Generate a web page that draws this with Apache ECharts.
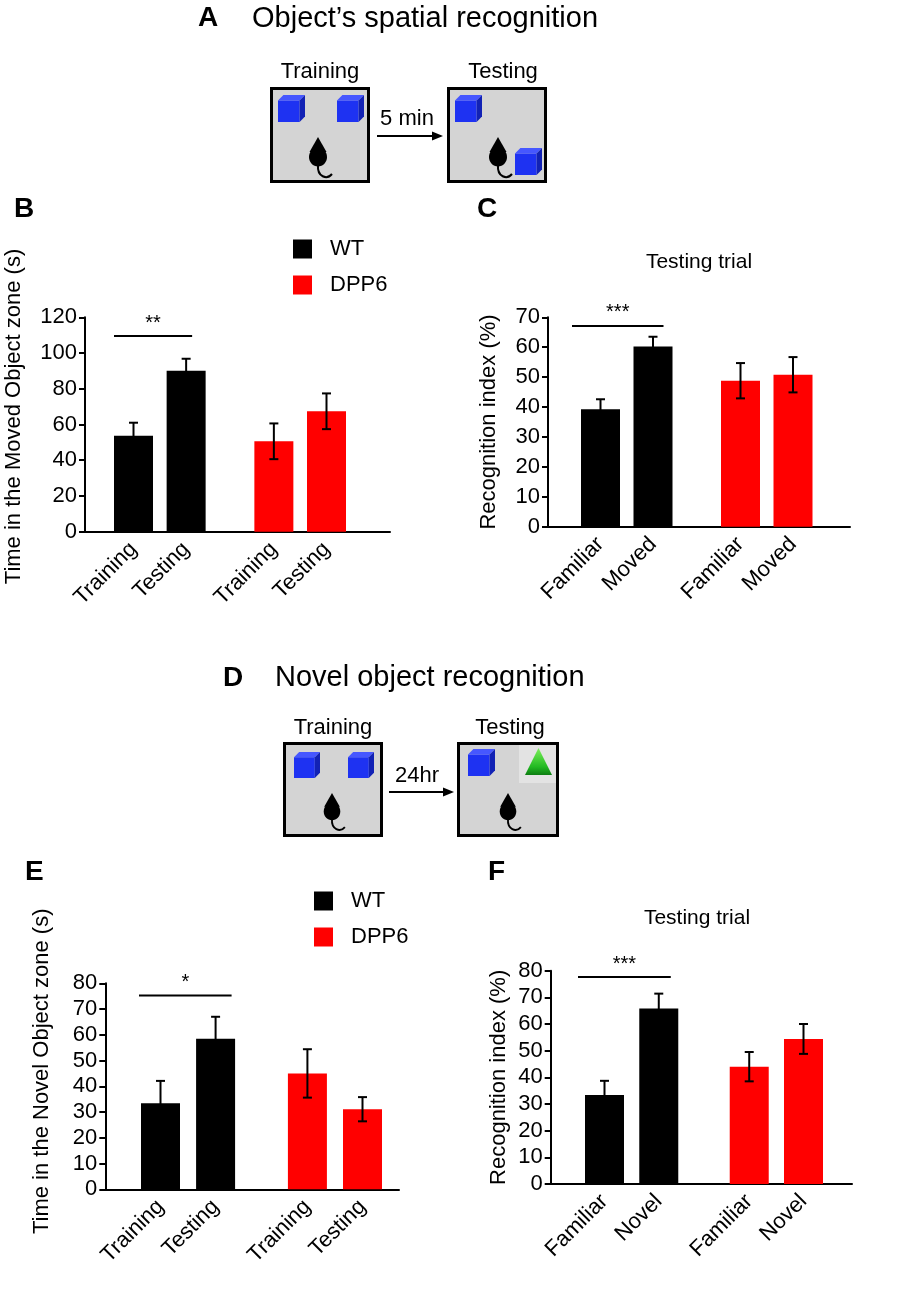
<!DOCTYPE html>
<html lang="en">
<head>
<meta charset="UTF-8">
<title>Object recognition in WT and DPP6 mice</title>
<style>
    html, body { margin: 0; padding: 0; background: #fff; }
    #chart { width: 915px; height: 1300px; }
</style>
</head>
<body>
<div id="chart"></div>
<script src="https://cdn.jsdelivr.net/npm/echarts@6/dist/echarts.min.js"></script>
<script>
// B - object's spatial recognition, time in the moved object zone (s)
var spatialTimeLabels = ['Training', 'Testing'];
var spatialTimeWT = [53.7, 90.1];
var spatialTimeWTErr = [7.3, 6.7];
var spatialTimeDPP6 = [50.6, 67.4];
var spatialTimeDPP6Err = [10.0, 10.0];
var spatialTimeSig = 109.5;          // ** WT training vs testing
var spatialTimeTicks = [0, 20, 40, 60, 80, 100, 120];

// C - spatial recognition index (%), testing trial
var spatialIndexLabels = ['Familiar', 'Moved'];
var spatialIndexWT = [39.3, 60.2];
var spatialIndexWTErr = [3.3, 3.3];
var spatialIndexDPP6 = [48.8, 50.8];
var spatialIndexDPP6Err = [5.9, 5.9];
var spatialIndexSig = 67.1;          // ***
var spatialIndexTicks = [0, 10, 20, 30, 40, 50, 60, 70];

// E - novel object recognition, time in the novel object zone (s)
var novelTimeLabels = ['Training', 'Testing'];
var novelTimeWT = [33.4, 58.5];
var novelTimeWTErr = [8.7, 8.5];
var novelTimeDPP6 = [45.0, 31.1];
var novelTimeDPP6Err = [9.4, 4.7];
var novelTimeSig = 75.3;             // *
var novelTimeTicks = [0, 10, 20, 30, 40, 50, 60, 70, 80];

// F - novel recognition index (%), testing trial
var novelIndexLabels = ['Familiar', 'Novel'];
var novelIndexWT = [33.4, 65.8];
var novelIndexWTErr = [5.3, 5.6];
var novelIndexDPP6 = [44.0, 54.4];
var novelIndexDPP6Err = [5.5, 5.6];
var novelIndexSig = 77.6;            // ***
var novelIndexTicks = [0, 10, 20, 30, 40, 50, 60, 70, 80];

var FONT = '"Liberation Sans", Arial, Helvetica, sans-serif';
// bars sit on a fine category grid: the two bars of a genotype 3 slots apart,
// the two genotypes 5 slots apart
var SLOTS = [0, 3, 8, 11];
var NSLOT = 12;

var option = {
    animation: false,
    backgroundColor: '#fff',
    textStyle: { fontFamily: FONT },
    grid: [], xAxis: [], yAxis: [], series: [], legend: [], graphic: []
};

function errorBar(params, api) {
    var x = api.value(0), m = api.value(1), e = api.value(2);
    var hi = api.coord([x, m + e]);
    var lo = api.coord([x, m - e]);
    var cap = 4.5;
    var st = { stroke: '#000', lineWidth: 2 };
    return {
        type: 'group',
        children: [
            { type: 'line', shape: { x1: hi[0], y1: hi[1], x2: lo[0], y2: lo[1] }, style: st },
            { type: 'line', shape: { x1: hi[0] - cap, y1: hi[1], x2: hi[0] + cap, y2: hi[1] }, style: st },
            { type: 'line', shape: { x1: lo[0] - cap, y1: lo[1], x2: lo[0] + cap, y2: lo[1] }, style: st }
        ]
    };
}

// significance line from a bit left of the first bar to past the second bar's centre
function bracket(stars, padL, padR) {
    return function (params, api) {
        var a = api.coord([api.value(0), api.value(2)]);
        var b = api.coord([api.value(1), api.value(2)]);
        var x1 = a[0] - padL, x2 = b[0] + padR;
        return {
            type: 'group',
            children: [
                { type: 'line', shape: { x1: x1, y1: a[1], x2: x2, y2: a[1] }, style: { stroke: '#000', lineWidth: 2 } },
                { type: 'text', x: (x1 + x2) / 2, y: a[1] - 13,
                  style: { text: stars, fontSize: 20, fontFamily: FONT, fill: '#000', align: 'center', verticalAlign: 'middle' } }
            ]
        };
    };
}

function addPanel(p) {
    var gi = option.grid.length;
    var xi = option.xAxis.length;
    var yi = option.yAxis.length;
    var slot = (p.c3 - p.c0) / (NSLOT - 1);
    var h = p.bottom - p.top;
    var ymin = p.ticks[0], ymax = p.ticks[p.ticks.length - 1], step = p.ticks[1] - p.ticks[0];

    // frame grid: y axis and full-length baseline
    option.grid.push({ left: p.left, top: p.top, width: p.right - p.left, height: h, containLabel: false, outerBoundsMode: 'none' });
    // bar grid: fine category slots
    option.grid.push({ left: p.c0 - slot / 2, top: p.top, width: slot * NSLOT, height: h, containLabel: false, outerBoundsMode: 'none' });

    option.xAxis.push({
        gridIndex: gi, type: 'category', data: [''],
        axisLine: { lineStyle: { color: '#000', width: 2 } },
        axisTick: { show: false }, axisLabel: { show: false }, splitLine: { show: false }
    });
    var cats = [];
    for (var i = 0; i < NSLOT; i++) cats.push('');
    var names = p.labels.concat(p.labels);
    SLOTS.forEach(function (s, k) { cats[s] = names[k]; });
    option.xAxis.push({
        gridIndex: gi + 1, type: 'category', data: cats,
        axisLine: { show: false }, axisTick: { show: false }, splitLine: { show: false },
        axisLabel: { interval: 0, rotate: 45, fontSize: 22, color: '#000', margin: 14, fontFamily: FONT }
    });

    option.yAxis.push({
        gridIndex: gi, type: 'value', min: ymin, max: ymax, interval: step,
        axisLine: { show: true, lineStyle: { color: '#000', width: 2 } },
        axisTick: { show: true, inside: false, length: 6, lineStyle: { color: '#000', width: 2 } },
        axisLabel: { color: '#000', fontSize: 22, margin: 8, fontFamily: FONT },
        splitLine: { show: false },
        name: p.yName, nameLocation: 'middle', nameRotate: 90, nameGap: p.nameGap,
        nameTextStyle: { color: '#000', fontSize: 22, fontFamily: FONT, padding: [0, 0, 0, p.namePad] }
    });
    option.yAxis.push({ gridIndex: gi + 1, type: 'value', min: ymin, max: ymax, interval: step, show: false });

    var bx = xi + 1, by = yi + 1;
    option.series.push({
        name: 'WT', type: 'bar', xAxisIndex: bx, yAxisIndex: by, barWidth: 39, barGap: '-100%',
        itemStyle: { color: '#000' }, z: 2, clip: false,
        data: [[SLOTS[0], p.wt[0]], [SLOTS[1], p.wt[1]]]
    });
    option.series.push({
        name: 'DPP6', type: 'bar', xAxisIndex: bx, yAxisIndex: by, barWidth: 39, barGap: '-100%',
        itemStyle: { color: '#ff0000' }, z: 2, clip: false,
        data: [[SLOTS[2], p.dpp6[0]], [SLOTS[3], p.dpp6[1]]]
    });
    option.series.push({
        type: 'custom', xAxisIndex: bx, yAxisIndex: by, z: 3, silent: true, clip: false,
        encode: { x: 0, y: 1 }, renderItem: errorBar,
        data: [
            [SLOTS[0], p.wt[0], p.wtErr[0]], [SLOTS[1], p.wt[1], p.wtErr[1]],
            [SLOTS[2], p.dpp6[0], p.dpp6Err[0]], [SLOTS[3], p.dpp6[1], p.dpp6Err[1]]
        ]
    });
    option.series.push({
        type: 'custom', xAxisIndex: bx, yAxisIndex: by, z: 3, silent: true, clip: false,
        encode: { x: [0, 1], y: 2 }, renderItem: bracket(p.stars, p.brL, p.brR),
        data: [[SLOTS[0], SLOTS[1], p.sig]]
    });

    if (p.legend) {
        option.legend.push({
            data: ['WT', 'DPP6'], orient: 'vertical', left: p.legend[0], top: p.legend[1],
            padding: 0, itemWidth: 19, itemHeight: 19, itemGap: 14, icon: 'rect', selectedMode: false,
            itemStyle: { borderWidth: 0 },
            textStyle: { fontSize: 22, color: '#000', fontFamily: FONT, lineHeight: 19, padding: [0, 0, 0, 13] }
        });
    }
}

addPanel({ left: 85, right: 390, top: 317.3, bottom: 531.7, c0: 133.5, c3: 326.5,
    ticks: spatialTimeTicks, labels: spatialTimeLabels,
    wt: spatialTimeWT, wtErr: spatialTimeWTErr, dpp6: spatialTimeDPP6, dpp6Err: spatialTimeDPP6Err,
    sig: spatialTimeSig, stars: '**', brL: 19.5, brR: 6,
    yName: 'Time in the Moved Object zone (s)', nameGap: 60, namePad: 16,
    legend: [293, 238] });
addPanel({ left: 548, right: 850, top: 317.3, bottom: 526.7, c0: 600.5, c3: 793,
    ticks: spatialIndexTicks, labels: spatialIndexLabels,
    wt: spatialIndexWT, wtErr: spatialIndexWTErr, dpp6: spatialIndexDPP6, dpp6Err: spatialIndexDPP6Err,
    sig: spatialIndexSig, stars: '***', brL: 28.5, brR: 10.5,
    yName: 'Recognition index (%)', nameGap: 48, namePad: 0 });
addPanel({ left: 105.3, right: 399, top: 983.3, bottom: 1189.3, c0: 160.5, c3: 362.5,
    ticks: novelTimeTicks, labels: novelTimeLabels,
    wt: novelTimeWT, wtErr: novelTimeWTErr, dpp6: novelTimeDPP6, dpp6Err: novelTimeDPP6Err,
    sig: novelTimeSig, stars: '*', brL: 21.5, brR: 16,
    yName: 'Time in the Novel Object zone (s)', nameGap: 52, namePad: 30,
    legend: [314, 890] });
addPanel({ left: 550.7, right: 852, top: 970.7, bottom: 1184, c0: 604.5, c3: 803.5,
    ticks: novelIndexTicks, labels: novelIndexLabels,
    wt: novelIndexWT, wtErr: novelIndexWTErr, dpp6: novelIndexDPP6, dpp6Err: novelIndexDPP6Err,
    sig: novelIndexSig, stars: '***', brL: 26.5, brR: 12,
    yName: 'Recognition index (%)', nameGap: 41, namePad: 0 });

// ---- text and schematic drawings ----
function txt(s, x, y, size, extra) {
    var st = { text: s, fontSize: size, fontFamily: FONT, fill: '#000',
               align: 'center', verticalAlign: 'middle', textAlign: 'center', textVerticalAlign: 'middle' };
    for (var k in extra) st[k] = extra[k];
    return { type: 'text', x: x, y: y, style: st };
}
function letter(s, x, y) {
    return txt(s, x, y, 28, { fontWeight: 'bold', align: 'left', textAlign: 'left' });
}
function arena(x, y, w, h) {
    return { type: 'rect', shape: { x: x, y: y, width: w, height: h },
             style: { fill: '#d4d4d4', stroke: '#000', lineWidth: 3 } };
}
function cube(x, y, size) {
    var d = size * 0.2, f = size - d;
    return {
        type: 'group', x: x, y: y,
        children: [
            { type: 'polygon', shape: { points: [[0, d], [f, d], [f, size], [0, size]] }, style: { fill: '#1e32f2' } },
            { type: 'polygon', shape: { points: [[0, d], [d, 0], [size, 0], [f, d]] }, style: { fill: '#4657ff' } },
            { type: 'polygon', shape: { points: [[f, d], [size, 0], [size, f], [f, size]] }, style: { fill: '#1222b5' } }
        ]
    };
}
function mouse(x, y, sc) {
    return {
        type: 'group', x: x, y: y, scaleX: sc, scaleY: sc,
        children: [
            { type: 'polygon', shape: { points: [[0, 0], [-8.5, 15], [8.5, 15]] }, style: { fill: '#000' } },
            { type: 'ellipse', shape: { cx: 0, cy: 20, rx: 9, ry: 9.5 }, style: { fill: '#000' } },
            { type: 'bezierCurve', shape: { x1: 0, y1: 28, cpx1: -1, cpy1: 40, cpx2: 9, cpy2: 43, x2: 14, y2: 37 },
              style: { stroke: '#000', lineWidth: 2, fill: null } }
        ]
    };
}
function arrow(x1, x2, y) {
    return {
        type: 'group',
        children: [
            { type: 'line', shape: { x1: x1, y1: y, x2: x2 - 9, y2: y }, style: { stroke: '#000', lineWidth: 2 } },
            { type: 'polygon', shape: { points: [[x2, y], [x2 - 11, y - 4.5], [x2 - 11, y + 4.5]] }, style: { fill: '#000' } }
        ]
    };
}

option.graphic = [
    // A
    letter('A', 198, 18.5),
    txt('Object\u2019s spatial recognition', 252, 18.5, 29, { align: 'left', textAlign: 'left' }),
    txt('Training', 320, 72, 22), txt('Testing', 503, 72, 22),
    arena(271.5, 88.5, 97, 93), arena(448.5, 88.5, 97, 93),
    cube(278, 95, 27), cube(337, 95, 27), cube(455, 95, 27), cube(515, 148, 27),
    mouse(318, 137, 1), mouse(498, 137, 1),
    arrow(377, 443, 136), txt('5 min', 407, 119, 22),
    // B, C
    letter('B', 14, 209.5), letter('C', 477, 209.5),
    txt('Testing trial', 699, 262, 21),
    // D
    letter('D', 223, 678),
    txt('Novel object recognition', 275, 678, 29, { align: 'left', textAlign: 'left' }),
    txt('Training', 333, 728, 22), txt('Testing', 510, 728, 22),
    arena(284.5, 743.5, 97, 92), arena(458.5, 743.5, 99, 92),
    { type: 'rect', shape: { x: 519, y: 745, width: 37, height: 38 }, style: { fill: '#e3e3e3' } },
    cube(294, 752, 26), cube(348, 752, 26), cube(468, 749, 27),
    { type: 'polygon', shape: { points: [[525, 775], [538.5, 748], [552, 775]] },
      style: { fill: new echarts.graphic.LinearGradient(0, 0, 0, 1, [
          { offset: 0, color: '#7cf05a' }, { offset: 0.7, color: '#22b922' }, { offset: 1, color: '#0d7d12' }
      ]) } },
    mouse(332, 793, 0.92), mouse(508, 793, 0.92),
    arrow(389, 454, 792), txt('24hr', 417, 775.5, 22),
    // E, F
    letter('E', 25, 872.5), letter('F', 488, 872.5),
    txt('Testing trial', 697, 918, 21)
];

var chart = echarts.init(document.getElementById('chart'));
chart.setOption(option);
</script>
</body>
</html>
